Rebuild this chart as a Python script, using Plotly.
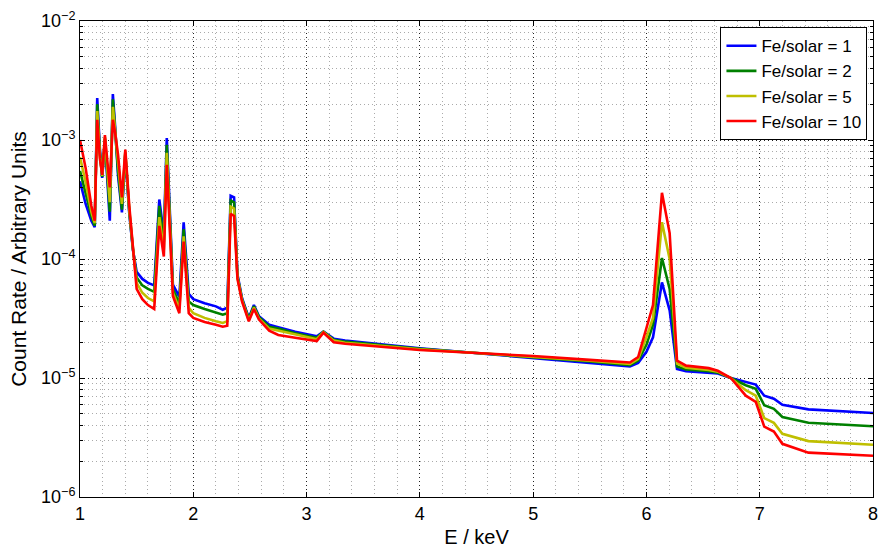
import plotly.graph_objects as go

# Photon energy grid (keV)
energy = [1.00, 1.05, 1.10, 1.13, 1.152, 1.175, 1.196, 1.22, 1.263, 1.29, 1.31, 1.336,
          1.37, 1.40, 1.435, 1.467, 1.50, 1.55, 1.60, 1.655, 1.70, 1.74, 1.766, 1.82,
          1.877, 1.915, 1.96, 2.00, 2.10, 2.20, 2.26, 2.30, 2.33, 2.36, 2.39, 2.43,
          2.49, 2.535, 2.58, 2.67, 2.75, 2.90, 3.09, 3.149, 3.24, 3.34, 4.00, 4.50,
          5.00, 5.50, 5.854, 5.927, 6.00, 6.058, 6.137, 6.205, 6.27, 6.35, 6.55, 6.63,
          6.745, 6.877, 6.965, 7.04, 7.125, 7.20, 7.43, 8.00]

# Count rates for each iron abundance
fe1 = [4.5e-4, 2.9e-4, 2.1e-4, 1.85e-4, 2.25e-3, 8.5e-4, 4.8e-4, 1.0e-3, 2.1e-4, 2.43e-3, 1.3e-3, 5.0e-4,
       2.46e-4, 7.5e-4, 2.4e-4, 1.2e-4, 7.8e-5, 6.8e-5, 6.3e-5, 6.0e-5, 3.16e-4, 1.6e-4, 1.04e-3, 6.1e-5,
       4.8e-5, 2.03e-4, 5.1e-5, 4.6e-5, 4.25e-5, 4.0e-5, 3.75e-5, 3.9e-5, 3.4e-4, 3.3e-4, 7.4e-5, 4.7e-5,
       3.2e-5, 4.1e-5, 3.3e-5, 2.8e-5, 2.67e-5, 2.45e-5, 2.24e-5, 2.45e-5, 2.14e-5, 2.06e-5, 1.78e-5, 1.62e-5,
       1.48e-5, 1.35e-5, 1.25e-5, 1.34e-5, 1.66e-5, 2.2e-5, 6.35e-5, 3.7e-5, 1.19e-5, 1.14e-5, 1.11e-5, 1.09e-5,
       1.0e-5, 9.2e-6, 8.8e-6, 7.1e-6, 6.7e-6, 5.95e-6, 5.45e-6, 5.08e-6]
fe2 = [5.5e-4, 3.5e-4, 2.3e-4, 1.9e-4, 2.0e-3, 8.0e-4, 4.9e-4, 1.03e-3, 2.5e-4, 2.2e-3, 1.25e-3, 5.5e-4,
       2.6e-4, 7.8e-4, 2.5e-4, 1.22e-4, 7.0e-5, 6.0e-5, 5.6e-5, 5.3e-5, 2.8e-4, 1.4e-4, 9.1e-4, 5.6e-5,
       4.2e-5, 1.78e-4, 4.4e-5, 4.1e-5, 3.8e-5, 3.55e-5, 3.4e-5, 3.5e-5, 3.1e-4, 3.0e-4, 7.2e-5, 4.6e-5,
       3.15e-5, 4.0e-5, 3.25e-5, 2.7e-5, 2.6e-5, 2.38e-5, 2.18e-5, 2.45e-5, 2.1e-5, 2.02e-5, 1.76e-5, 1.62e-5,
       1.5e-5, 1.38e-5, 1.28e-5, 1.4e-5, 1.9e-5, 2.8e-5, 1.02e-4, 5.6e-5, 1.25e-5, 1.18e-5, 1.14e-5, 1.11e-5,
       1.0e-5, 8.7e-6, 8.1e-6, 5.9e-6, 5.5e-6, 4.7e-6, 4.2e-6, 3.93e-6]
fe5 = [7.2e-4, 4.4e-4, 2.5e-4, 2.0e-4, 1.75e-3, 7.5e-4, 5.0e-4, 1.06e-3, 3.0e-4, 1.9e-3, 1.2e-3, 6.2e-4,
       2.9e-4, 8.0e-4, 2.6e-4, 1.25e-4, 6.3e-5, 5.2e-5, 4.7e-5, 4.4e-5, 2.25e-4, 1.2e-4, 7.8e-4, 5.2e-5,
       3.8e-5, 1.55e-4, 3.9e-5, 3.5e-5, 3.2e-5, 3.0e-5, 2.9e-5, 3.0e-5, 2.75e-4, 2.65e-4, 7.0e-5, 4.5e-5,
       3.05e-5, 3.9e-5, 3.15e-5, 2.6e-5, 2.5e-5, 2.3e-5, 2.12e-5, 2.43e-5, 2.06e-5, 1.98e-5, 1.74e-5, 1.62e-5,
       1.51e-5, 1.4e-5, 1.31e-5, 1.45e-5, 2.2e-5, 3.2e-5, 2.04e-4, 1.0e-4, 1.32e-5, 1.22e-5, 1.17e-5, 1.13e-5,
       1.0e-5, 7.9e-6, 7.1e-6, 4.6e-6, 4.2e-6, 3.4e-6, 2.95e-6, 2.75e-6]
fe10 = [1.0e-3, 5.8e-4, 2.8e-4, 2.1e-4, 1.48e-3, 7.0e-4, 5.1e-4, 1.1e-3, 4.0e-4, 1.48e-3, 1.15e-3, 7.5e-4,
        3.3e-4, 8.3e-4, 2.8e-4, 1.3e-4, 5.6e-5, 4.6e-5, 4.1e-5, 3.8e-5, 1.9e-4, 1.05e-4, 6.2e-4, 4.9e-5,
        3.5e-5, 1.4e-4, 3.5e-5, 3.2e-5, 2.95e-5, 2.8e-5, 2.7e-5, 2.75e-5, 2.4e-4, 2.3e-4, 6.8e-5, 4.4e-5,
        3.0e-5, 3.8e-5, 3.1e-5, 2.5e-5, 2.3e-5, 2.18e-5, 2.04e-5, 2.4e-5, 2.0e-5, 1.94e-5, 1.72e-5, 1.62e-5,
        1.53e-5, 1.42e-5, 1.35e-5, 1.5e-5, 2.6e-5, 4.1e-5, 3.6e-4, 1.65e-4, 1.40e-5, 1.27e-5, 1.21e-5, 1.15e-5,
        1.0e-5, 7.1e-6, 6.3e-6, 3.9e-6, 3.55e-6, 2.8e-6, 2.36e-6, 2.22e-6]

series_names = ["Fe/solar = 1", "Fe/solar = 2", "Fe/solar = 5", "Fe/solar = 10"]
series_values = [fe1, fe2, fe5, fe10]
series_colors = ["#0000ff", "#008000", "#bfbf00", "#ff0000"]

x_ticks = [1, 2, 3, 4, 5, 6, 7, 8]
y_ticks = [1e-6, 1e-5, 1e-4, 1e-3, 1e-2]
y_tick_text = ["10<sup>−6</sup>", "10<sup>−5</sup>", "10<sup>−4</sup>",
               "10<sup>−3</sup>", "10<sup>−2</sup>"]
y_minor = [m * 10.0 ** p for p in range(-6, -2) for m in range(2, 10)]
x_minor = [round(1 + 0.2 * i, 1) for i in range(36) if i % 5 != 0]

FONT = "Liberation Sans, Arial, Helvetica, sans-serif"

fig = go.Figure()
for name, vals, col in zip(series_names, series_values, series_colors):
    fig.add_trace(go.Scatter(x=energy, y=vals, mode="lines", name=name,
                             line=dict(color=col, width=2.6)))

fig.update_layout(
    width=885, height=552,
    margin=dict(l=80, r=7, t=21, b=54),
    paper_bgcolor="white", plot_bgcolor="white",
    font=dict(family=FONT, size=18, color="black"),
    showlegend=True,
    legend=dict(x=0.993, y=0.987, xanchor="right", yanchor="top",
                bgcolor="white", bordercolor="black", borderwidth=1,
                font=dict(family=FONT, size=17, color="black"),
                tracegroupgap=0),
)

fig.update_xaxes(
    range=[1, 8], tickmode="array", tickvals=x_ticks,
    ticks="inside", ticklen=5, tickcolor="black",
    showline=True, linecolor="black", linewidth=1, mirror="allticks",
    showgrid=True, gridcolor="#222222", gridwidth=1, griddash="1px,3px",
    zeroline=False,
    tickfont=dict(family=FONT, size=18),
    title=dict(text="E / keV", font=dict(family=FONT, size=20), standoff=7),
    minor=dict(tickmode="array", tickvals=x_minor, ticks="",
               showgrid=True, gridcolor="#aaaaaa", gridwidth=1, griddash="1px,3px"),
)

fig.update_yaxes(
    type="log", range=[-6, -2], tickmode="array", tickvals=y_ticks, ticktext=y_tick_text,
    ticks="inside", ticklen=5, tickcolor="black",
    showline=True, linecolor="black", linewidth=1, mirror="allticks",
    showgrid=True, gridcolor="#222222", gridwidth=1, griddash="1px,3px",
    zeroline=False,
    tickfont=dict(family=FONT, size=18),
    title=dict(text="Count Rate / Arbitrary Units", font=dict(family=FONT, size=21), standoff=8),
    minor=dict(tickmode="array", tickvals=y_minor, ticks="inside", ticklen=3, tickcolor="black",
               showgrid=True, gridcolor="#aaaaaa", gridwidth=1, griddash="1px,3px"),
)

fig.write_html("out.html")
